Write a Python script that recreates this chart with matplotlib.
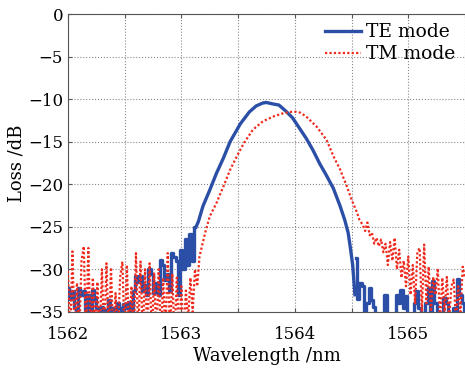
import numpy as np
import matplotlib
matplotlib.use("Agg")
import matplotlib.pyplot as plt
from matplotlib.ticker import MultipleLocator, FuncFormatter

# TE mode: noise floor (left), main lobe, noise floor (right)
te_left_wl = np.arange(1562.00, 1563.13, 0.02)
te_left = [-32.2, -33.5, -32.6, -34.5, -36.0, -32.2, -33.0, -32.5, -34.8, -33.0,
           -36.0, -32.4, -33.5, -34.5, -36.0, -34.4, -36.0, -34.8, -33.6, -36.0,
           -34.6, -36.0, -34.0, -34.5, -36.0, -34.1, -34.6, -33.8, -36.0, -32.5,
           -30.8, -31.5, -30.8, -32.5, -31.8, -33.0, -30.0, -30.5, -32.8, -31.6,
           -33.0, -28.9, -29.5, -31.3, -30.5, -32.5, -28.1, -28.5, -29.0, -33.0,
           -27.7, -30.0, -26.5, -29.5, -25.8, -29.0, -25.0]
te_lobe_wl = [1563.13, 1563.15, 1563.19, 1563.25, 1563.31, 1563.37, 1563.43, 1563.52,
              1563.60, 1563.66, 1563.72, 1563.75, 1563.80, 1563.86, 1563.92, 1563.98,
              1564.04, 1564.10, 1564.16, 1564.22, 1564.28, 1564.34, 1564.40, 1564.44,
              1564.47, 1564.49, 1564.51, 1564.53]
te_lobe = [-25.0, -24.4, -22.6, -20.7, -18.7, -16.95, -15.0, -12.9,
           -11.5, -10.8, -10.45, -10.4, -10.55, -10.7, -11.4, -12.2,
           -13.4, -14.6, -16.0, -17.6, -19.0, -20.5, -22.6, -24.2,
           -25.7, -27.5, -29.5, -33.0]
te_right_wl = np.arange(1564.54, 1565.51, 0.02)
te_right = [-28.7, -33.5, -31.6, -32.0, -36.0, -34.0, -32.2, -33.6, -34.4, -40.0,
            -40.0, -40.0, -40.0, -33.0, -40.0, -40.0, -40.0, -36.0, -33.0, -34.0,
            -32.4, -34.5, -33.2, -36.0, -40.0, -36.0, -34.0, -32.6, -34.5, -36.0,
            -40.0, -34.0, -32.2, -36.0, -31.4, -34.0, -36.0, -40.0, -36.0, -33.4,
            -34.0, -40.0, -36.0, -34.5, -36.0, -31.2, -33.0, -34.0, -35.5]

# TM mode
tm_left_wl = np.arange(1562.00, 1563.17, 0.02)
tm_left = [-30.2, -38.0, -27.9, -38.0, -31.6, -38.0, -29.0, -27.3, -38.0, -27.5,
           -38.0, -31.0, -38.0, -31.5, -38.0, -30.0, -38.0, -29.3, -38.0, -29.8,
           -38.0, -32.8, -38.0, -31.0, -29.1, -38.0, -29.5, -38.0, -32.0, -38.0,
           -28.1, -38.0, -29.1, -38.0, -30.0, -38.0, -29.3, -38.0, -30.5, -38.0,
           -30.0, -38.0, -31.0, -38.0, -28.1, -38.0, -30.5, -38.0, -31.0, -38.0,
           -32.0, -38.0, -32.5, -36.0, -31.0, -35.0, -30.0, -32.0, -28.5]
tm_lobe_wl = [1563.21, 1563.25, 1563.31, 1563.37, 1563.43, 1563.49, 1563.55, 1563.63,
              1563.72, 1563.81, 1563.90, 1563.99, 1564.05, 1564.10, 1564.19, 1564.28,
              1564.34, 1564.40, 1564.46, 1564.50, 1564.55, 1564.57]
tm_lobe = [-25.7, -23.8, -22.2, -20.3, -18.3, -16.7, -15.2, -13.6,
           -12.6, -12.05, -11.65, -11.45, -11.6, -12.05, -13.2, -14.8,
           -16.7, -18.3, -20.3, -21.8, -23.4, -24.2]
tm_right_wl = np.arange(1564.60, 1565.51, 0.02)
tm_right = [-24.8, -25.5, -24.5, -26.0, -25.7, -27.0, -26.3, -27.3, -26.5, -28.0,
            -27.0, -29.5, -26.8, -29.0, -26.3, -30.0, -27.7, -31.0, -29.0, -32.0,
            -28.5, -33.0, -29.5, -34.0, -28.0, -27.5, -35.0, -27.1, -34.0, -29.7,
            -35.0, -30.9, -33.0, -29.9, -36.0, -31.0, -35.0, -30.9, -36.0, -32.0,
            -31.2, -36.0, -32.0, -35.0, -29.7, -31.0]

tm_wl = np.concatenate([tm_left_wl, tm_lobe_wl, tm_right_wl])
tm_loss = np.concatenate([tm_left, tm_lobe, tm_right])

te_color = '#2b4fa6'
tm_color = '#ee2b1e'

plt.rcParams['font.family'] = ['DejaVu Serif']

fig = plt.figure(figsize=(4.65, 3.69), dpi=100)
ax = fig.add_axes([0.146, 0.155, 0.854, 0.807])

# noisy parts drawn as steps, the lobe as a plain line
ax.plot(te_left_wl, te_left, color=te_color, lw=2.4, drawstyle='steps-mid', zorder=3)
ax.plot(te_lobe_wl, te_lobe, color=te_color, lw=2.4, label='TE mode', zorder=3)
ax.plot(te_right_wl, te_right, color=te_color, lw=2.4, drawstyle='steps-mid', zorder=3)
ax.plot(tm_wl, tm_loss, color=tm_color, lw=1.6, ls=(0, (1, 1)),
        label='TM mode', zorder=4)

ax.set_xlim(1562, 1565.5)
ax.set_ylim(-35, 0)
ax.xaxis.set_major_locator(MultipleLocator(0.5))
ax.xaxis.set_major_formatter(FuncFormatter(
    lambda v, p: '%d' % round(v) if abs(v - round(v)) < 1e-6 else ''))
ax.yaxis.set_major_locator(MultipleLocator(5))
ax.tick_params(direction='in', length=3, width=0.8, labelsize=12,
               color='#555555', top=True)
ax.tick_params(axis='x', pad=10)
ax.grid(True, ls=':', color='#888888', lw=0.8)

for side in ['top', 'left', 'bottom']:
    ax.spines[side].set_color('#555555')
ax.spines['right'].set_visible(False)

ax.set_xlabel('Wavelength /nm', fontsize=13, labelpad=3)
ax.set_ylabel('Loss /dB', fontsize=13, labelpad=2)

ax.legend(loc='upper right', bbox_to_anchor=(1.0, 1.0), frameon=False,
          fontsize=13.5, handlelength=1.9, handletextpad=0.3,
          labelspacing=0.2, borderaxespad=0.1)

fig.savefig('out.png', dpi=100)
